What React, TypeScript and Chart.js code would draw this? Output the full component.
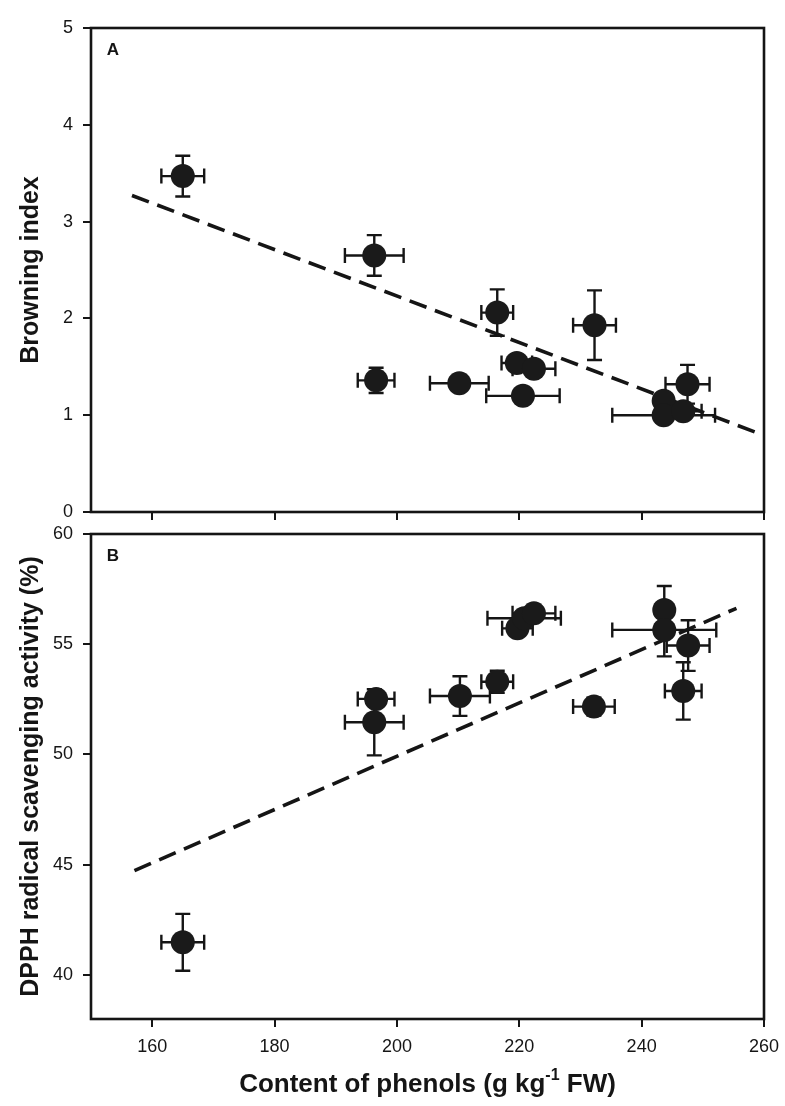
import React, { useEffect, useRef } from 'react';
import { Chart, registerables } from 'chart.js';

Chart.register(...registerables);

// phenol content (x) with its SD, one entry per sample
const phenolsA = [165.0, 196.3, 196.6, 210.2, 216.4, 219.6, 220.6, 222.4, 232.3, 243.6, 243.6, 246.8, 247.5];
const phenolsErrA = [3.5, 4.8, 3.0, 4.8, 2.6, 2.5, 6.0, 3.5, 3.5, 0.8, 8.4, 3.0, 3.6];
const browning = [3.47, 2.65, 1.36, 1.33, 2.06, 1.54, 1.2, 1.48, 1.93, 1.15, 1.0, 1.04, 1.32];
const browningErr = [0.21, 0.21, 0.13, 0.05, 0.24, 0.05, 0.05, 0.05, 0.36, 0.05, 0.05, 0.05, 0.2];

const phenolsB = [165.0, 196.3, 196.6, 210.3, 216.4, 219.7, 220.8, 222.4, 232.2, 243.7, 243.7, 246.8, 247.6];
const phenolsErrB = [3.5, 4.8, 3.0, 4.9, 2.6, 2.5, 6.0, 3.5, 3.4, 0.8, 8.5, 3.0, 3.5];
const dpph = [41.48, 51.46, 52.52, 52.65, 53.3, 55.72, 56.18, 56.4, 52.17, 56.55, 55.65, 52.88, 54.94];
const dpphErr = [1.29, 1.5, 0.3, 0.9, 0.5, 0.3, 0.3, 0.3, 0.4, 1.09, 1.2, 1.3, 1.15];

// dashed regression lines (end points)
const trendAx = [156.7, 258.8];
const trendAy = [3.27, 0.82];
const trendBx = [157.1, 255.5];
const trendBy = [44.73, 56.63];

const xTicks = [160, 180, 200, 220, 240, 260];
const yTicksA = [0, 1, 2, 3, 4, 5];
const yTicksB = [40, 45, 50, 55, 60];

const FONT = '"Liberation Sans", Arial, sans-serif';
const INK = '#151515';

const errorBars = {
  id: 'errorBars',
  beforeDatasetsDraw(chart: any) {
    const { ctx, scales } = chart;
    const x = scales.x;
    const y = scales.y;
    const pts = chart.data.datasets[0].data as any[];
    ctx.save();
    ctx.strokeStyle = INK;
    ctx.lineWidth = 2.4;
    const cap = 7.5;
    pts.forEach((p) => {
      const px = x.getPixelForValue(p.x);
      const py = y.getPixelForValue(p.y);
      if (p.yErr) {
        const t = y.getPixelForValue(p.y + p.yErr);
        const b = y.getPixelForValue(p.y - p.yErr);
        ctx.beginPath();
        ctx.moveTo(px, t);
        ctx.lineTo(px, b);
        ctx.moveTo(px - cap, t);
        ctx.lineTo(px + cap, t);
        ctx.moveTo(px - cap, b);
        ctx.lineTo(px + cap, b);
        ctx.stroke();
      }
      if (p.xErr) {
        const l = x.getPixelForValue(p.x - p.xErr);
        const r = x.getPixelForValue(p.x + p.xErr);
        ctx.beginPath();
        ctx.moveTo(l, py);
        ctx.lineTo(r, py);
        ctx.moveTo(l, py - cap);
        ctx.lineTo(l, py + cap);
        ctx.moveTo(r, py - cap);
        ctx.lineTo(r, py + cap);
        ctx.stroke();
      }
    });
    ctx.restore();
  },
};

const frame = {
  id: 'frame',
  afterDraw(chart: any, _args: any, opts: any) {
    const { ctx, chartArea: a } = chart;
    ctx.save();
    ctx.strokeStyle = INK;
    ctx.lineWidth = 2.6;
    ctx.strokeRect(a.left, a.top, a.right - a.left, a.bottom - a.top);
    ctx.fillStyle = INK;
    ctx.font = `bold 17px ${FONT}`;
    ctx.textAlign = 'center';
    ctx.textBaseline = 'middle';
    ctx.fillText(opts.letter, a.left + 22, a.top + 22);
    if (opts.xTitle) {
      // x title with superscript
      const big = `bold 26px ${FONT}`;
      const small = `bold 16px ${FONT}`;
      const [pre, sup, post] = opts.xTitle;
      ctx.font = big;
      const w1 = ctx.measureText(pre).width;
      const w3 = ctx.measureText(post).width;
      ctx.font = small;
      const w2 = ctx.measureText(sup).width;
      const total = w1 + w2 + w3;
      let sx = (a.left + a.right) / 2 - total / 2;
      const ty = chart.height - 21;
      ctx.textAlign = 'left';
      ctx.font = big;
      ctx.fillText(pre, sx, ty);
      sx += w1;
      ctx.font = small;
      ctx.fillText(sup, sx, ty - 9);
      sx += w2;
      ctx.font = big;
      ctx.fillText(post, sx, ty);
    }
    ctx.restore();
  },
};

function makeConfig(
  xs: number[], xErr: number[], ys: number[], yErr: number[],
  tx: number[], ty: number[],
  yMin: number, yMax: number, yTicks: number[], yTitle: string,
  letter: string, showX: boolean, padTop: number, xHeight: number,
): any {
  return {
    type: 'scatter',
    data: {
      datasets: [
        {
          data: xs.map((x, i) => ({ x, y: ys[i], xErr: xErr[i], yErr: yErr[i] })),
          pointRadius: 12,
          pointHoverRadius: 12,
          backgroundColor: '#1a1a1a',
          borderWidth: 0,
          order: 1,
        },
        {
          data: tx.map((x, i) => ({ x, y: ty[i] })),
          showLine: true,
          pointRadius: 0,
          borderColor: INK,
          borderWidth: 3.6,
          borderDash: [18, 9],
          order: 2,
        },
      ],
    },
    options: {
      responsive: false,
      animation: false,
      layout: { padding: { top: padTop, right: 21, left: 0, bottom: 0 } },
      plugins: {
        legend: { display: false },
        tooltip: { enabled: false },
        frame: { letter, xTitle: showX ? ['Content of phenols (g kg', '-1', ' FW)'] : null },
      },
      scales: {
        x: {
          type: 'linear',
          min: 150,
          max: 260,
          afterBuildTicks: (s: any) => { s.ticks = xTicks.map((v) => ({ value: v })); },
          afterFit: (s: any) => { s.height = xHeight; s.paddingLeft = 0; s.paddingRight = 0; },
          border: { display: false },
          grid: { drawOnChartArea: false, drawTicks: true, tickLength: 8, color: INK, lineWidth: 2 },
          ticks: { display: showX, padding: 9, color: INK, font: { family: FONT, size: 18 } },
        },
        y: {
          type: 'linear',
          min: yMin,
          max: yMax,
          afterBuildTicks: (s: any) => { s.ticks = yTicks.map((v) => ({ value: v })); },
          afterFit: (s: any) => { s.width = 91; s.paddingTop = 0; s.paddingBottom = 0; },
          border: { display: false },
          grid: { drawOnChartArea: false, drawTicks: true, tickLength: 8, color: INK, lineWidth: 2 },
          ticks: { padding: 10, color: INK, font: { family: FONT, size: 18 } },
          title: {
            display: true,
            text: yTitle,
            color: INK,
            padding: { top: 16, bottom: 0 },
            font: { family: FONT, size: 25, weight: 'bold' },
          },
        },
      },
    },
    plugins: [errorBars, frame],
  };
}

const Panel: React.FC<{ config: any; top: number; height: number }> = ({ config, top, height }) => {
  const ref = useRef<HTMLCanvasElement | null>(null);
  useEffect(() => {
    if (!ref.current) return;
    const chart = new Chart(ref.current, config);
    return () => chart.destroy();
  }, [config]);
  return (
    <canvas
      ref={ref}
      width={785}
      height={height}
      style={{ position: 'absolute', left: 0, top, width: 785, height }}
    />
  );
};

const configA = makeConfig(phenolsA, phenolsErrA, browning, browningErr, trendAx, trendAy,
  0, 5, yTicksA, 'Browning index', 'A', false, 28, 28);
const configB = makeConfig(phenolsB, phenolsErrB, dpph, dpphErr, trendBx, trendBy,
  38, 60, yTicksB, 'DPPH radical scavenging activity (%)', 'B', true, 34, 87);

export default function App() {
  return (
    <div style={{ position: 'absolute', left: 0, top: 0, width: 785, height: 1106, background: '#fff' }}>
      <Panel config={configA} top={0} height={540} />
      <Panel config={configB} top={500} height={606} />
    </div>
  );
}
